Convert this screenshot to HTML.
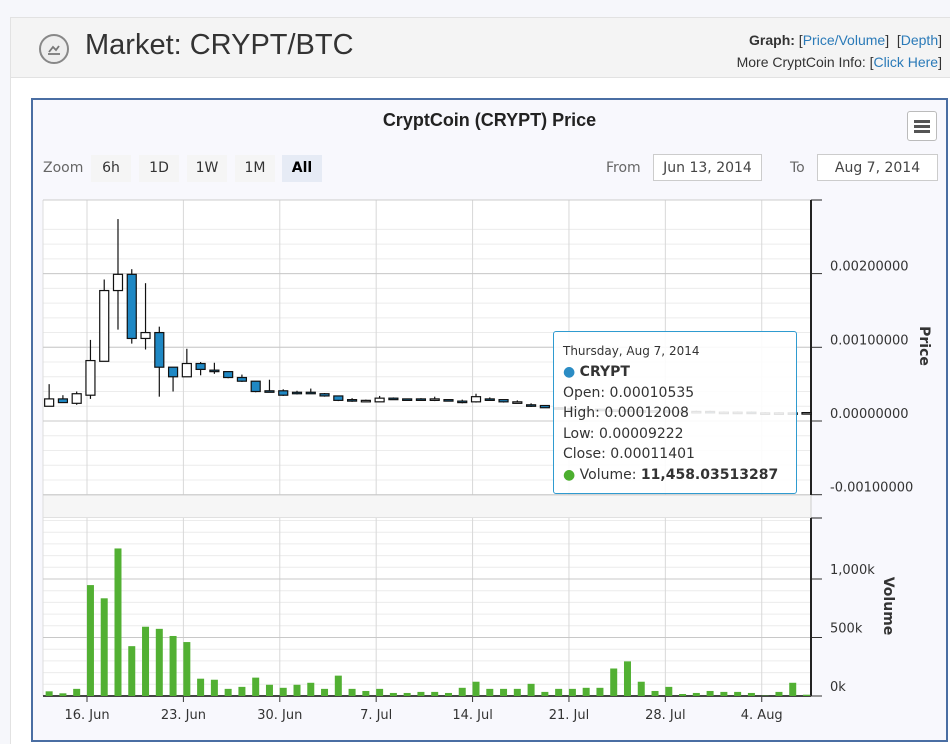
<!DOCTYPE html>
<html><head><meta charset="utf-8">
<style>
body{margin:0;width:950px;height:744px;overflow:hidden;background:#f6f7fb;font-family:"Liberation Sans",sans-serif;position:relative}
.hdr{position:absolute;left:10px;top:17px;width:940px;height:61px;background:#f4f4f4;border:1px solid #e2e2e2;border-right:none;box-sizing:border-box}
.main{position:absolute;left:10px;top:78px;width:940px;height:666px;background:#fff;border-left:1px solid #e2e2e2}
.btn{position:absolute;top:155px;height:27px;line-height:27px;background:#f5f5f5;font-family:"DejaVu Sans",sans-serif;font-size:14px;color:#333;text-align:center;width:40px}
.inp{position:absolute;top:154px;height:27px;line-height:27px;border:1px solid #ccc;background:#fff;font-family:"DejaVu Sans",sans-serif;font-size:14px;color:#444;text-align:center;box-sizing:border-box}
.lbl{position:absolute;top:155px;line-height:27px;font-family:"DejaVu Sans",sans-serif;font-size:14px;color:#666}
a{color:#2a7ab8;text-decoration:none}
</style></head><body>
<div class="hdr"></div>
<svg style="position:absolute;left:38px;top:33px" width="32" height="32"><circle cx="16" cy="16" r="14" fill="#eee" stroke="#888" stroke-width="2"/><path d="M10 21h12M11 19l4-5 3 3 3-4" stroke="#777" stroke-width="1.8" fill="none"/></svg>
<div style="position:absolute;left:85px;top:29px;font-size:29px;color:#333">Market: CRYPT/BTC</div>
<div style="position:absolute;right:8px;top:29px;font-size:14px;color:#333;text-align:right;line-height:22px">
<b>Graph:</b> [<a href="#">Price/Volume</a>]&nbsp; [<a href="#">Depth</a>]<br>More CryptCoin Info: [<a href="#">Click Here</a>]</div>
<div class="main"></div>
<div style="position:absolute;left:31px;top:98px;width:917px;height:644px;border:2px solid #4a6ea3;box-sizing:border-box;background:#f8f8fd"></div>
<div style="position:absolute;left:31px;top:110px;width:917px;text-align:center;font-size:18px;font-weight:bold;color:#222">CryptCoin (CRYPT) Price</div>
<div style="position:absolute;left:907px;top:111px;width:30px;height:30px;border:1px solid #bbb;border-radius:3px;background:#fff;box-sizing:border-box"><div style="margin:8px 6px;height:3px;background:#555;box-shadow:0 5px 0 #555,0 10px 0 #555"></div></div>
<div class="lbl" style="left:43px">Zoom</div>
<div class="btn" style="left:91px">6h</div>
<div class="btn" style="left:139px">1D</div>
<div class="btn" style="left:187px">1W</div>
<div class="btn" style="left:235px">1M</div>
<div class="btn" style="left:282px;background:#e6ebf5;font-weight:bold;color:#000">All</div>
<div class="lbl" style="left:606px">From</div>
<div class="inp" style="left:653px;width:109px">Jun 13, 2014</div>
<div class="lbl" style="left:790px">To</div>
<div class="inp" style="left:817px;width:121px">Aug 7, 2014</div>
<svg id="chart" style="position:absolute;left:0;top:0" width="950" height="744"></svg>
<div style="position:absolute;left:553px;top:331px;width:244px;height:163px;border:1px solid #2f9bd0;border-radius:3px;background:rgba(255,255,255,0.88);box-sizing:border-box;font-family:'DejaVu Sans',sans-serif;color:#333;padding:12px 0 0 9px;font-size:14px;line-height:20.5px">
<div style="font-size:12px;line-height:14px;margin-bottom:4px">Thursday, Aug 7, 2014</div>
<div><span style="color:#2b8cc4">●</span> <b>CRYPT</b></div>
<div>Open: 0.00010535</div><div>High: 0.00012008</div><div>Low: 0.00009222</div><div>Close: 0.00011401</div>
<div><span style="color:#4caf2f">●</span> Volume: <b>11,458.03513287</b></div></div>
<script>
const opens=[.0002,.0003,.00024,.00035,.00081,.00177,.00199,.00112,.0012,.00073,.0006,.00078,.00069,.00067,.00059,.00054,.00041,.00041,.00039,.00039,.00037,.00034,.00029,.00028,.00026,.00031,.0003,.0003,.00029,.00029,.00027,.00026,.0003,.00029,.00024,.00022,.00021,.00018,.00017,.00016,.00016,.00015,.00015,.00014,.00014,.00014,.00013,.00013,.00013,.00012,.00012,.00012,.00011,.00011,.00011,.000105];
const highs=[.0005,.00035,.0004,.0011,.00192,.00274,.00206,.00187,.00128,.00073,.00098,.0008,.00079,.00067,.00063,.00054,.00056,.00043,.00041,.00044,.00038,.00034,.00031,.00029,.00034,.00032,.0003,.00031,.00033,.00029,.00029,.00037,.00032,.00029,.00028,.00024,.00021,.00019,.00018,.00017,.00017,.00016,.00016,.00015,.00015,.00015,.00014,.00014,.00014,.00013,.00013,.00013,.00012,.00012,.00012,.00012];
const lows=[.0002,.00025,.00022,.0003,.00081,.00124,.00105,.00097,.00033,.0004,.0006,.00062,.00064,.00058,.00053,.00039,.00039,.00034,.00036,.00037,.00033,.00027,.00026,.00027,.00026,.00029,.00028,.00028,.00027,.00027,.00024,.00025,.00028,.00025,.00024,.00019,.00018,.00016,.00015,.00015,.00014,.00014,.00013,.00013,.00013,.00012,.00012,.00012,.00011,.00011,.00011,.0001,.0001,.0001,.0001,.000092];
const closes=[.0003,.00025,.00037,.00082,.00177,.00199,.00112,.0012,.00073,.0006,.00078,.0007,.00068,.00059,.00054,.0004,.0004,.00035,.00038,.00038,.00034,.00028,.00028,.00028,.00031,.0003,.00029,.00029,.0003,.00028,.00026,.00033,.00029,.00026,.00026,.00021,.00018,.00017,.00016,.00016,.00015,.00015,.00014,.00014,.00014,.00013,.00013,.00013,.00012,.00012,.00012,.00011,.00011,.00011,.000105,.000114];
const volumes=[40,23,61,948,835,1261,426,592,574,513,461,148,139,61,78,157,96,70,96,113,61,174,61,43,61,26,26,35,35,26,70,122,61,61,61,104,35,61,61,70,70,235,296,122,43,78,17,26,43,35,35,26,3,35,113,11];
const xTicks=["16. Jun","23. Jun","30. Jun","7. Jul","14. Jul","21. Jul","28. Jul","4. Aug"];
const priceTicks=[0.002,0.001,0,-0.001];
const volTicks=[0,500,1000];
const NS="http://www.w3.org/2000/svg";
const svg=document.getElementById('chart');
function x(d){return 45.7+d*13.77;}
function yP(p){return 421-p*73700;}
function yV(v){return 696-v*0.117;}
function mk(t,a,p){const e=document.createElementNS(NS,t);for(const k in a)e.setAttribute(k,a[k]);(p||svg).appendChild(e);return e;}
let e=mk('rect',{x:43,y:200,width:768,height:295,fill:'#fff'});


e=mk('rect',{x:43,y:495,width:768,height:23,fill:'#f6f6f6',stroke:'#ccc'});


e=mk('rect',{x:43,y:518,width:768,height:178,fill:'#fff'});


for(let p=-0.001;p<=0.00275;p+=0.0002){const yy=yP(p);if(yy>=200&&yy<=495)mk('line',{x1:43,x2:811,y1:yy,y2:yy,stroke:'#ececec'});}
for(let v=0;v<=1500;v+=100){const yy=yV(v);if(yy>=518)mk('line',{x1:43,x2:811,y1:yy,y2:yy,stroke:'#ececec'});}
for(let i=0;i<xTicks.length;i++){const xx=x(3+7*i);
 mk('line',{x1:xx,x2:xx,y1:200,y2:495,stroke:'#d8d8d8'});mk('line',{x1:xx,x2:xx,y1:518,y2:696,stroke:'#d8d8d8'});
 mk('line',{x1:xx,x2:xx,y1:696,y2:702,stroke:'#333'});
 e=mk('text',{x:xx,y:719,'text-anchor':'middle','font-size':13,'font-family':'DejaVu Sans, sans-serif',fill:'#333'});e.textContent=xTicks[i];
 
 }
mk('line',{x1:43,x2:43,y1:200,y2:696,stroke:'#ddd'});
mk('line',{x1:43,x2:811,y1:200,y2:200,stroke:'#ccc'});
priceTicks.forEach(p=>{const yy=yP(p);mk('line',{x1:43,x2:811,y1:yy,y2:yy,stroke:'#c8c8c8'});mk('line',{x1:811,x2:822,y1:yy,y2:yy,stroke:'#333'});
 e=mk('text',{x:830,y:yy-3,'font-size':13,'font-family':'DejaVu Sans, sans-serif',fill:'#333'});e.textContent=p.toFixed(8);
 
 });
volTicks.forEach(v=>{const yy=yV(v);mk('line',{x1:43,x2:811,y1:yy,y2:yy,stroke:'#c8c8c8'});mk('line',{x1:811,x2:822,y1:yy,y2:yy,stroke:'#333'});
 e=mk('text',{x:830,y:yy-5,'font-size':13,'font-family':'DejaVu Sans, sans-serif',fill:'#333'});e.textContent=(v>=1000?'1,000':v)+'k';
 
 });
mk('line',{x1:811,x2:811,y1:200,y2:495,stroke:'#222','stroke-width':2});
mk('line',{x1:811,x2:822,y1:200,y2:200,stroke:'#222'});
mk('line',{x1:811,x2:811,y1:518,y2:696,stroke:'#222','stroke-width':2});
mk('line',{x1:811,x2:822,y1:518,y2:518,stroke:'#222'});
mk('line',{x1:43,x2:811,y1:696,y2:696,stroke:'#444','stroke-width':2});
e=mk('text',{x:0,y:0,'font-size':14,'font-weight':'bold','font-family':'DejaVu Sans, sans-serif',fill:'#333',transform:'translate(920,346) rotate(90)','text-anchor':'middle'});e.textContent='Price';


e=mk('text',{x:0,y:0,'font-size':14,'font-weight':'bold','font-family':'DejaVu Sans, sans-serif',fill:'#333',transform:'translate(884,606) rotate(90)','text-anchor':'middle'});e.textContent='Volume';


volumes.forEach((v,i)=>{const xx=x(i+0.25);e=mk('rect',{x:xx-3.5,y:yV(v),width:7,height:696-yV(v),fill:'#52b033'});
 
 });
opens.forEach((o,i)=>{const c=closes[i],xx=x(i+0.25);
 mk('line',{x1:xx,x2:xx,y1:yP(highs[i]),y2:yP(lows[i]),stroke:'#111','stroke-width':1.2});
 const top=yP(Math.max(o,c)),h=Math.max(1.5,Math.abs(yP(o)-yP(c)));
 e=mk('rect',{x:xx-4.5,y:top,width:9,height:h,fill:c>=o?'#fff':'#1f88c4',stroke:'#111','stroke-width':1.2});
 
 });
</script>
</body></html>
